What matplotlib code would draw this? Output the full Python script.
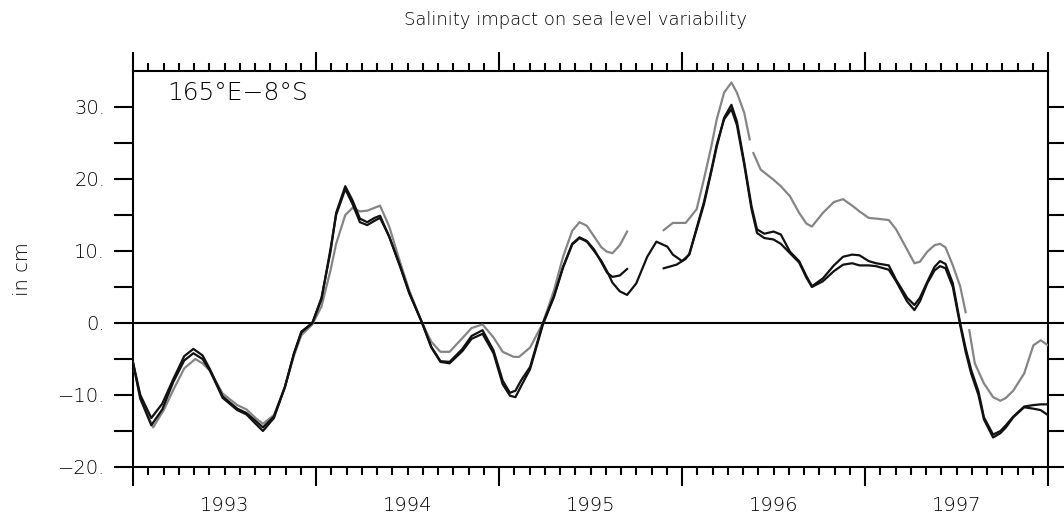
import numpy as np
import matplotlib
matplotlib.use("Agg")
import matplotlib.pyplot as plt
from matplotlib.ticker import FixedLocator, FuncFormatter

nan = np.nan

# series 1: black, with gap in late 1995
t_b1 = [1993.00, 1993.04, 1993.10, 1993.16, 1993.22, 1993.28, 1993.33, 1993.38, 1993.42, 1993.49,
        1993.57, 1993.62, 1993.67, 1993.71, 1993.77, 1993.83, 1993.88, 1993.92, 1993.98, 1994.03,
        1994.08, 1994.11, 1994.16, 1994.20, 1994.24, 1994.28, 1994.32, 1994.35, 1994.40, 1994.46,
        1994.51, 1994.58, 1994.63, 1994.68, 1994.73, 1994.80, 1994.85, 1994.91, 1994.97, 1995.02,
        1995.06, 1995.09, 1995.12, 1995.17, 1995.24, 1995.30, 1995.35, 1995.40, 1995.44, 1995.48,
        1995.52, 1995.56, 1995.59, 1995.62, 1995.66, 1995.70, 1995.80, 1995.90, 1995.97, 1996.02,
        1996.04, 1996.08, 1996.12, 1996.16, 1996.19, 1996.23, 1996.27, 1996.30, 1996.34, 1996.38,
        1996.41, 1996.45, 1996.50, 1996.54, 1996.59, 1996.64, 1996.68, 1996.71, 1996.77, 1996.83,
        1996.88, 1996.93, 1996.97, 1997.02, 1997.06, 1997.13, 1997.17, 1997.23, 1997.27, 1997.30,
        1997.34, 1997.38, 1997.41, 1997.44, 1997.48, 1997.52, 1997.55, 1997.58, 1997.62, 1997.65,
        1997.70, 1997.74, 1997.77, 1997.81, 1997.87, 1997.92, 1997.96, 1998.00]
v_b1 = [-5.5, -10.0, -13.2, -11.2, -7.8, -4.6, -3.6, -4.5, -6.4, -10.2,
        -11.9, -12.5, -13.6, -14.5, -13.0, -8.9, -4.2, -1.3, 0.0, 3.5,
        10.0, 15.3, 19.0, 17.0, 14.5, 14.0, 14.6, 14.9, 12.0, 7.9,
        4.2, 0.0, -3.3, -5.3, -5.4, -3.6, -1.8, -1.0, -3.8, -8.0,
        -9.7, -9.4, -8.0, -6.1, 0.0, 3.7, 7.8, 11.0, 11.9, 11.4,
        10.2, 8.4, 7.0, 6.4, 6.6, 7.5, nan, 7.6, 8.1, 8.9,
        9.6, 13.0, 16.5, 21.0, 24.5, 28.5, 30.3, 28.0, 22.3, 16.2,
        13.0, 12.4, 12.7, 12.3, 9.9, 8.6, 6.5, 5.1, 6.2, 8.0,
        9.2, 9.5, 9.4, 8.6, 8.3, 8.0, 6.0, 3.5, 2.5, 3.5,
        5.7, 7.8, 8.6, 8.2, 5.5, 0.0, -3.5, -6.5, -9.5, -13.1,
        -15.5, -15.0, -14.2, -13.0, -11.6, -11.4, -11.3, -11.3]

# series 2: black, continuous
t_b2 = [1993.00, 1993.04, 1993.10, 1993.16, 1993.22, 1993.28, 1993.33, 1993.38, 1993.42, 1993.49,
        1993.57, 1993.62, 1993.67, 1993.71, 1993.77, 1993.83, 1993.88, 1993.92, 1993.98, 1994.03,
        1994.08, 1994.11, 1994.16, 1994.20, 1994.24, 1994.28, 1994.32, 1994.35, 1994.40, 1994.46,
        1994.51, 1994.58, 1994.63, 1994.68, 1994.73, 1994.80, 1994.85, 1994.91, 1994.97, 1995.02,
        1995.06, 1995.09, 1995.12, 1995.17, 1995.24, 1995.30, 1995.35, 1995.40, 1995.44, 1995.48,
        1995.52, 1995.56, 1995.59, 1995.62, 1995.66, 1995.70, 1995.75, 1995.81, 1995.86, 1995.92,
        1995.95, 1996.00, 1996.04, 1996.08, 1996.12, 1996.16, 1996.19, 1996.23, 1996.27, 1996.30,
        1996.34, 1996.38, 1996.41, 1996.45, 1996.50, 1996.54, 1996.59, 1996.64, 1996.68, 1996.71,
        1996.77, 1996.83, 1996.88, 1996.93, 1996.97, 1997.02, 1997.06, 1997.13, 1997.17, 1997.23,
        1997.27, 1997.30, 1997.34, 1997.38, 1997.41, 1997.44, 1997.48, 1997.52, 1997.55, 1997.58,
        1997.62, 1997.65, 1997.70, 1997.74, 1997.77, 1997.81, 1997.87, 1997.92, 1997.96, 1998.00]
v_b2 = [-5.5, -10.5, -14.2, -12.0, -8.2, -5.2, -4.2, -5.0, -6.6, -10.4,
        -12.1, -12.7, -14.0, -15.0, -13.2, -8.9, -4.2, -1.2, 0.0, 3.3,
        10.4, 15.0, 18.6, 16.5, 14.0, 13.6, 14.2, 14.6, 12.0, 7.8,
        4.1, 0.0, -3.4, -5.4, -5.6, -3.9, -2.2, -1.5, -4.2, -8.5,
        -10.1, -10.3, -8.8, -6.4, -0.2, 3.6, 7.7, 10.9, 11.8, 11.3,
        10.0, 8.6, 7.2, 5.6, 4.4, 3.9, 5.5, 9.2, 11.3, 10.6,
        9.5, 8.6, 9.5, 13.2, 16.8, 21.2, 24.8, 28.3, 29.7, 27.5,
        22.0, 15.8, 12.5, 11.8, 11.6, 11.0, 9.7, 8.4, 6.3, 5.0,
        5.8, 7.2, 8.1, 8.3, 8.0, 8.0, 7.9, 7.4, 5.8, 3.0,
        1.8, 3.0, 5.5, 7.3, 7.9, 7.6, 5.0, -0.3, -4.0, -7.0,
        -10.0, -13.4, -15.9, -15.3, -14.5, -13.1, -11.7, -11.9, -12.1, -12.8]

# series 3: grey
t_g = [1993.00, 1993.04, 1993.11, 1993.17, 1993.22, 1993.28, 1993.34, 1993.38, 1993.42, 1993.49,
       1993.57, 1993.62, 1993.67, 1993.71, 1993.77, 1993.83, 1993.88, 1993.92, 1993.98, 1994.03,
       1994.08, 1994.11, 1994.16, 1994.20, 1994.24, 1994.28, 1994.32, 1994.35, 1994.40, 1994.46,
       1994.51, 1994.58, 1994.63, 1994.68, 1994.73, 1994.80, 1994.85, 1994.91, 1994.97, 1995.02,
       1995.08, 1995.11, 1995.17, 1995.24, 1995.30, 1995.35, 1995.40, 1995.44, 1995.48, 1995.52,
       1995.56, 1995.59, 1995.62, 1995.66, 1995.70, 1995.80, 1995.90, 1995.95, 1996.02, 1996.08,
       1996.12, 1996.16, 1996.19, 1996.23, 1996.27, 1996.30, 1996.34, 1996.37, 1996.375, 1996.39,
       1996.43, 1996.50, 1996.54, 1996.59, 1996.64, 1996.68, 1996.71, 1996.77, 1996.83, 1996.88,
       1996.93, 1996.97, 1997.02, 1997.06, 1997.13, 1997.17, 1997.23, 1997.27, 1997.30, 1997.34,
       1997.38, 1997.41, 1997.44, 1997.48, 1997.52, 1997.55, 1997.555, 1997.57, 1997.60, 1997.65,
       1997.70, 1997.74, 1997.77, 1997.81, 1997.87, 1997.92, 1997.96, 1998.00]
v_g = [-5.5, -10.5, -14.5, -12.0, -9.3, -6.3, -5.0, -5.6, -6.6, -9.8,
       -11.4, -12.0, -13.2, -14.0, -12.8, -8.9, -4.5, -1.7, -0.2, 2.3,
       7.4, 11.0, 15.0, 16.0, 15.5, 15.6, 16.0, 16.3, 13.4, 8.4,
       4.5, 0.0, -2.6, -4.0, -4.0, -2.1, -0.7, -0.2, -2.0, -4.0,
       -4.7, -4.7, -3.4, 0.0, 4.5, 9.2, 12.8, 14.0, 13.5, 12.0,
       10.5, 9.9, 9.7, 10.8, 12.7, nan, 12.9, 13.9, 13.9, 15.8,
       20.0, 24.5, 28.3, 32.0, 33.4, 32.0, 29.2, 25.5, nan, 23.6,
       21.3, 19.9, 19.0, 17.6, 15.3, 13.8, 13.4, 15.3, 16.8, 17.2,
       16.3, 15.5, 14.6, 14.5, 14.3, 13.0, 10.2, 8.3, 8.5, 9.9,
       10.8, 11.0, 10.5, 8.0, 5.1, 1.5, nan, -1.0, -5.6, -8.4,
       -10.3, -10.8, -10.4, -9.4, -7.0, -3.1, -2.4, -3.1]

year_ticks = [1993, 1994, 1995, 1996, 1997, 1998]
year_labels = ["1993", "1994", "1995", "1996", "1997"]
y_ticks = [-20, -15, -10, -5, 0, 5, 10, 15, 20, 25, 30]

W, H = 1064, 515
fig = plt.figure(figsize=(W / 100, H / 100), dpi=100)
ax = fig.add_axes([133 / W, 1 - 467 / H, 915 / W, 396 / H])

ax.plot(t_g, v_g, color="#858585", lw=1.6, zorder=3, solid_joinstyle="round")
ax.plot(t_b2, v_b2, color="#111111", lw=1.6, zorder=4, solid_joinstyle="round")
ax.plot(t_b1, v_b1, color="#111111", lw=1.6, zorder=4, solid_joinstyle="round")
ax.axhline(0, color="black", lw=1.5, zorder=2)

ax.set_xlim(1993, 1998)
ax.set_ylim(-20, 35)

ax.xaxis.set_major_locator(FixedLocator(year_ticks))
ax.xaxis.set_minor_locator(FixedLocator([1993 + m / 12 for m in range(61) if m % 12]))
ax.set_xticklabels([])
# year labels sit in the middle of each year
for i, lab in enumerate(year_labels):
    ax.text(year_ticks[i] + 0.5, -44 / 396, lab, transform=ax.get_xaxis_transform(),
            ha="center", va="baseline", fontsize=14, fontweight="light")

ax.yaxis.set_major_locator(FixedLocator(y_ticks))
ax.yaxis.set_major_formatter(FuncFormatter(
    lambda v, p: (f"{int(v)}.".replace("-", "\u2212")) if v % 10 == 0 else ""))

ax.tick_params(axis="x", which="major", direction="out", length=14, width=1.5,
               top=True, bottom=True)
ax.tick_params(axis="x", which="minor", direction="out", length=6, width=1.5,
               top=True, bottom=True)
ax.tick_params(axis="y", which="major", direction="out", length=14, width=1.5,
               left=True, right=True, labelsize=14, pad=6)
for lab in ax.get_yticklabels():
    lab.set_fontweight("light")
for s in ax.spines.values():
    s.set_linewidth(1.5)

ax.text(0.037, 0.975, "165\u00b0E\u22128\u00b0S", transform=ax.transAxes,
        ha="left", va="top", fontsize=18, fontweight="light")

fig.text(575 / W, 1 - 20 / H, "Salinity impact on sea level variability",
         ha="center", va="center", fontsize=13, fontweight="light")
fig.text(22 / W, 1 - 269 / H, "in cm", rotation=90, ha="center", va="center",
         fontsize=14, fontweight="light")

fig.savefig("out.png", dpi=100)
